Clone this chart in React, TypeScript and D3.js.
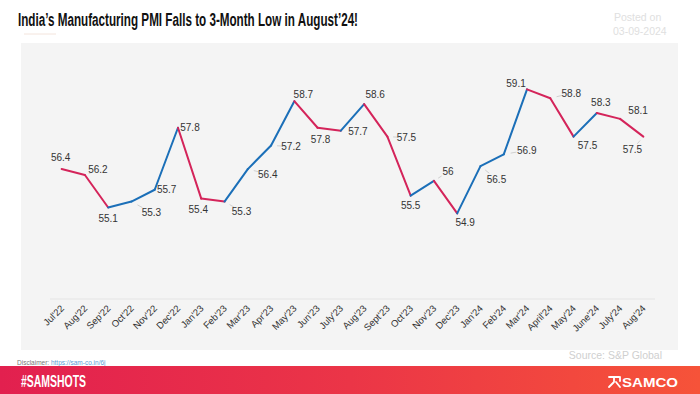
import * as d3 from "d3";

const months = [
  "Jul'22", "Aug'22", "Sep'22", "Oct'22", "Nov'22", "Dec'22",
  "Jan'23", "Feb'23", "Mar'23", "Apr'23", "May'23", "Jun'23",
  "July'23", "Aug'23", "Sept'23", "Oct'23", "Nov'23", "Dec'23",
  "Jan'24", "Feb'24", "Mar'24", "April'24", "May'24", "June'24",
  "July'24", "Aug'24",
];

const pmi = [
  56.4, 56.2, 55.1, 55.3, 55.7, 57.8,
  55.4, 55.3, 56.4, 57.2, 58.7, 57.8,
  57.7, 58.6, 57.5, 55.5, 56, 54.9,
  56.5, 56.9, 59.1, 58.8, 57.5, 58.3,
  58.1, 57.5,
];

const yDomain = [52, 60];

// label placement next to each point (dx, dy, leader line?)
const labelPos: [number, number, boolean][] = [
  [-1, -12, false], [13, -5, true], [0, 11, false], [20, 11, true],
  [12, 0, false], [12, 0, false], [-3, 11, false], [17, 10, true],
  [20, 5, true], [20, 1, true], [9, -7, false], [3, 12, false],
  [17, 1, false], [11, -10, false], [19, 1, true], [0, 10, false],
  [14, -9, true], [8, 9, false], [16, 13, true], [23, -4, true],
  [-11, -6, false], [21, -5, true], [14, 9, false], [4, -10, false],
  [18, -8, false], [-11, 13, true],
];

const W = 700;
const H = 394;
const UP = "#1b6fb8";
const DOWN = "#d4245a";
const FONT = "'Liberation Sans', Arial, sans-serif";
const NARROW = "'Liberation Sans Narrow', 'Arial Narrow', 'Liberation Sans', sans-serif";

export default function App() {
  const x = d3.scalePoint<string>().domain(months).range([50, 655]).padding(0.5);
  const y = d3.scaleLinear().domain(yDomain).range([299, 62.8]);

  const pts = pmi.map((v, i) => ({ m: months[i], v, x: x(months[i]) as number, y: y(v) }));
  const line = d3.line<{ x: number; y: number }>().x(d => d.x).y(d => d.y);

  return (
    <svg width={W} height={H} style={{ position: "absolute", left: 0, top: 0 }}>
      <defs>
        <linearGradient id="foot" x1="0" x2="1" y1="0" y2="0">
          <stop offset="0" stopColor="#e2204f" />
          <stop offset="0.5" stopColor="#eb3547" />
          <stop offset="1" stopColor="#f65339" />
        </linearGradient>
      </defs>
      <rect width={W} height={H} fill="#fff" />

      {/* header */}
      <text x={18} y={26} fontFamily={NARROW} fontWeight="bold" fontSize={17.5} fill="#111"
        textLength={340} lengthAdjust="spacingAndGlyphs">
        India’s Manufacturing PMI Falls to 3-Month Low in August’24!
      </text>
      <line x1={24} x2={56} y1={34} y2={34} stroke="#f3e4dc" strokeWidth={1} />
      <text x={614} y={21} fontFamily={FONT} fontSize={10.5} fill="#e0e0e0">Posted on</text>
      <text x={613} y={35} fontFamily={FONT} fontSize={10.5} fill="#e0e0e0">03-09-2024</text>

      {/* panel */}
      <rect x={21} y={43} width={657} height={307} fill="#f4f4f4" />
      <line x1={50} x2={655} y1={299} y2={299} stroke="#e4e4e4" strokeWidth={1} />

      {pts.slice(1).map((p, i) => {
        const a = pts[i];
        return (
          <path key={p.m} d={line([a, p]) ?? ""} fill="none"
            stroke={p.v >= a.v ? UP : DOWN} strokeWidth={2} strokeLinejoin="round" strokeLinecap="round" />
        );
      })}

      {pts.map((p, i) => {
        const [dx, dy, lead] = labelPos[i];
        return (
          <g key={p.m}>
            {lead && (
              <line x1={p.x + dx * 0.3} y1={p.y + dy * 0.3} x2={p.x + dx * 0.55} y2={p.y + dy * 0.55}
                stroke="#d0d0d0" strokeWidth={1} />
            )}
            <text x={p.x + dx} y={p.y + dy} dy="0.35em" textAnchor="middle" fontFamily={FONT}
              fontSize={10} fill="#333">{String(p.v)}</text>
          </g>
        );
      })}

      {months.map(m => (
        <text key={m} transform={`translate(${(x(m) as number) + 3},${309}) rotate(-45)`}
          textAnchor="end" fontFamily={FONT} fontSize={9.5} fill="#333">{m}</text>
      ))}

      <text x={662} y={359} textAnchor="end" fontFamily={FONT} fontSize={10.5} fill="#cfcfcf">Source: S&amp;P Global</text>
      <text x={17} y={365} fontFamily={FONT} fontSize={6.5} fill="#777">
        Disclaimer: <tspan fill="#5b9bd5">https://sam-co.in/6j</tspan>
      </text>

      {/* footer */}
      <rect x={0} y={366} width={W} height={28} fill="url(#foot)" />
      <text x={21} y={387} fontFamily={NARROW} fontWeight="bold" fontSize={16} fill="#fff"
        textLength={65} lengthAdjust="spacingAndGlyphs">#SAMSHOTS</text>
      <g stroke="#fff" strokeWidth={1.8} fill="none" strokeLinecap="round">
        <path d="M609,377 h5 v5 M614,382 l-5,5 M613,377 l6,0 M616,382 l4,5 M620,377 v4" />
      </g>
      <text x={622} y={387} fontFamily={FONT} fontWeight="bold" fontSize={13.5} fill="#fff"
        textLength={56} lengthAdjust="spacingAndGlyphs">SAMCO</text>
    </svg>
  );
}
